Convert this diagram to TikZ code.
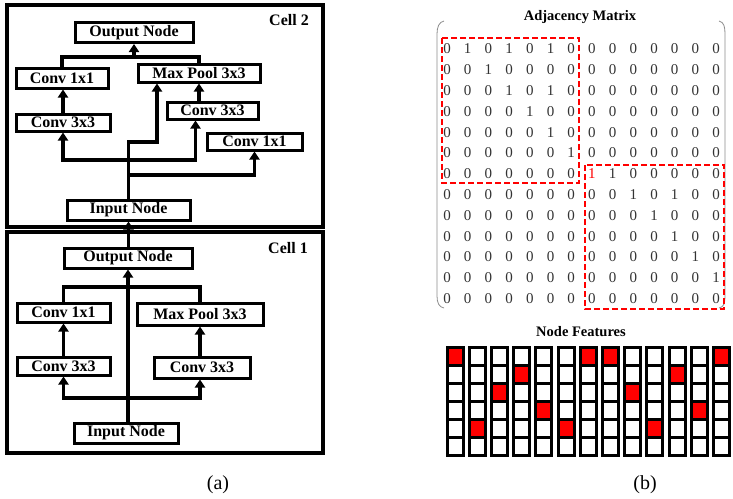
\documentclass[tikz,border=0pt]{standalone}
\usepackage{fontspec}
\setmainfont{Liberation Serif}
\usetikzlibrary{arrows.meta,calc}

\begin{document}
\begin{tikzpicture}[x=1pt,y=-1pt,
    op/.style={draw,line width=3pt,inner sep=0pt,font=\fontsize{16}{18}\selectfont\bfseries},
    wire/.style={line width=3.6pt},
    arr/.style={line width=3.6pt,-{Triangle[width=10pt,length=8pt]}},
    digit/.style={inner sep=0pt,font=\fontsize{15}{17}\selectfont,text=black!80},
    ttl/.style={font=\fontsize{14.5}{16}\selectfont\bfseries}]
  \useasboundingbox (0,0) rectangle (733,498);

  % cell 2
  \draw[line width=3.2pt] (7,5) rectangle (323,227);
  \node[font=\fontsize{16}{18}\selectfont\bfseries] (c2lab) at (289,20) {Cell 2};
  \node[op,minimum width=118pt,minimum height=20pt] (c2out) at (134,32.5) {Output Node};
  \node[op,minimum width=92pt,minimum height=20pt] (c2c1a) at (62,78) {Conv 1x1};
  \node[op,minimum width=122pt,minimum height=18pt] (c2pool) at (199,73) {Max Pool 3x3};
  \node[op,minimum width=94pt,minimum height=17pt] (c2c3a) at (63,122.5) {Conv 3x3};
  \node[op,minimum width=91pt,minimum height=17pt] (c2c3b) at (212.5,110.5) {Conv 3x3};
  \node[op,minimum width=95pt,minimum height=17pt] (c2c1b) at (254.5,141.5) {Conv 1x1};
  \node[op,minimum width=123pt,minimum height=20pt] (c2in) at (128.5,210) {Input Node};
  \coordinate (c2j) at (134,57);
  \coordinate (c2k) at (157,142);
  \coordinate (c2b) at (128.5,160);
  \coordinate (c2r) at (128.5,175);
  \draw[wire] (c2c1a.north) |- (c2j) -| (c2pool.north);
  \draw[arr] (c2j) -- (c2out.south);
  \draw[arr] (c2c3a.north) -- (c2c3a.north |- c2c1a.south);
  \draw[arr] (c2pool.south |- c2c3b.north) -- (c2pool.south);
  \draw[arr] (c2in.north) |- (c2k) -- (c2k |- c2pool.south);
  \draw[arr] (c2b) -| (c2c3a.south);
  \draw[arr] (c2b) -| ($(c2c3b.south)+(-17,0)$);
  \draw[arr] (c2r) -| (c2c1b.south);

  % cell 1
  \draw[line width=3.2pt] (7,232) rectangle (323,453);
  \node[font=\fontsize{16}{18}\selectfont\bfseries] (c1lab) at (288,248) {Cell 1};
  \node[op,minimum width=128pt,minimum height=20pt] (c1out) at (128,258) {Output Node};
  \node[op,minimum width=93pt,minimum height=19pt] (c1c1) at (63.5,312.5) {Conv 1x1};
  \node[op,minimum width=126pt,minimum height=22pt] (c1pool) at (200,314) {Max Pool 3x3};
  \node[op,minimum width=93pt,minimum height=18pt] (c1c3a) at (63.5,366) {Conv 3x3};
  \node[op,minimum width=96pt,minimum height=21pt] (c1c3b) at (202,367.5) {Conv 3x3};
  \node[op,minimum width=104pt,minimum height=20pt] (c1in) at (126,433) {Input Node};
  \coordinate (c1j) at (128,287);
  \coordinate (c1b) at (128,398);
  \draw[wire] (c1c1.north) |- (c1j) -| (c1pool.north);
  \draw[arr] (c1out.south |- c1in.north) -- (c1out.south);
  \draw[arr] (c1c3a.north) -- (c1c3a.north |- c1c1.south);
  \draw[arr] (c1pool.south |- c1c3b.north) -- (c1pool.south);
  \draw[arr] (c1b) -| (c1c3a.south);
  \draw[arr] (c1b) -| ($(c1c3b.south)+(-2,0)$);
  \draw[arr] (c2in.south |- c1out.north) -- (c2in.south);

  % adjacency matrix
  \node[ttl] (adjt) at (580,17) {Adjacency Matrix};
  \draw[black!45,line width=0.8pt] (444,21) .. controls (439,22) and (437,27) .. (437,34) -- (437,296)
    .. controls (437,303) and (439,307) .. (444,308);
  \draw[black!45,line width=0.8pt] (719,21) .. controls (724,22) and (725,27) .. (725,34) -- (725,296)
    .. controls (725,303) and (724,307) .. (719,308);
  \foreach \row [count=\i from 0] in {
      {0,1,0,1,0,1,0,0,0,0,0,0,0,0},
      {0,0,1,0,0,0,0,0,0,0,0,0,0,0},
      {0,0,0,1,0,1,0,0,0,0,0,0,0,0},
      {0,0,0,0,1,0,0,0,0,0,0,0,0,0},
      {0,0,0,0,0,1,0,0,0,0,0,0,0,0},
      {0,0,0,0,0,0,1,0,0,0,0,0,0,0},
      {0,0,0,0,0,0,0,{\textcolor{red}{1}},1,0,0,0,0,0},
      {0,0,0,0,0,0,0,0,0,1,0,1,0,0},
      {0,0,0,0,0,0,0,0,0,0,1,0,0,0},
      {0,0,0,0,0,0,0,0,0,0,0,1,0,0},
      {0,0,0,0,0,0,0,0,0,0,0,0,1,0},
      {0,0,0,0,0,0,0,0,0,0,0,0,0,1},
      {0,0,0,0,0,0,0,0,0,0,0,0,0,0}}
    \foreach \v [count=\j from 0] in \row
      \node[digit] (m\i-\j) at (447+20.7*\j,49+20.8*\i) {\v};
  \draw[red,line width=2.2pt,dash pattern=on 6pt off 3pt] (442,38) rectangle (579,183);
  \draw[red,line width=2.2pt,dash pattern=on 6pt off 3pt] (585,165) rectangle (724,309);

  % node features
  \node[ttl] (nft) at (581,332) {Node Features};
  \foreach \r [count=\j from 0] in {0,4,2,1,3,4,0,0,2,4,1,3,0} {
    \fill[red] (447+22.2*\j,347+18*\r) rectangle +(16,18);
    \foreach \k in {0,...,5}
      \draw[line width=3pt] (447+22.2*\j,347+18*\k) rectangle +(16,18);
  }

  \node[font=\fontsize{20}{22}\selectfont] (la) at (218,485) {(a)};
  \node[font=\fontsize{20}{22}\selectfont] (lb) at (645,485) {(b)};
\end{tikzpicture}
\end{document}
